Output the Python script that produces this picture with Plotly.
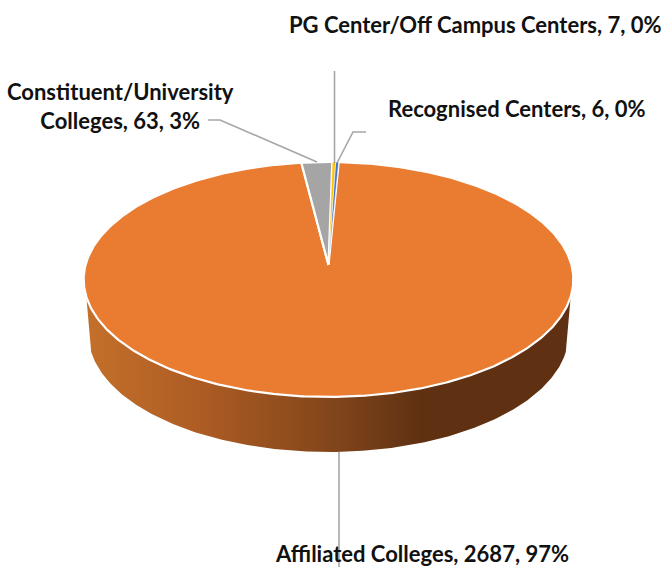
import numpy as np
import plotly.graph_objects as go

# ---- data ----
categories = ["Affiliated Colleges", "Constituent/University Colleges",
              "PG Center/Off Campus Centers", "Recognised Centers"]
values = [2687, 63, 7, 6]
percent_labels = ["97%", "3%", "0%", "0%"]
slice_colors = ["#EA7C31", "#A5A5A5", "#FFC000", "#4472C4"]

# ---- projection of the tilted disc onto the page (axis units = pixels) ----
W, H = 667, 568
CX, APEX_Y, R = 328.5, 265.0, 243.0
A, C = -83.0, 0.1234
DEPTH, BASE_SCALE = 55.0, 0.98
START_DEG = 2.7   # clockwise from north, where the first slice starts


def project(theta_deg, radius=1.0, drop=0.0, scale=1.0):
    t = np.radians(theta_deg)
    px, py = radius * np.sin(t), radius * np.cos(t)
    d = C * py + 1
    return CX + scale * R * px / d, (A * py + APEX_Y) / d + drop


fig = go.Figure()

# side wall, with a horizontal shade
rim_angle = np.degrees(np.arccos(-0.267))   # where the wall leaves the top rim
front = np.linspace(rim_angle, 360 - rim_angle, 240)
tx, ty = project(front)
bx, by = project(front[::-1], drop=DEPTH, scale=BASE_SCALE)
wall_x = np.r_[tx, bx, tx[0]]
wall_y = np.r_[ty, by, ty[0]]
x0, x1 = wall_x.min(), wall_x.max()
stops = [(x0, "#C4702B"), (200, "#AD5C23"), (340, "#7F441A"), (420, "#5F3112"), (x1, "#5F3112")]
fig.add_trace(go.Scatter(
    x=wall_x, y=wall_y, mode="lines", line=dict(width=0), fill="toself",
    fillgradient=dict(type="horizontal",
                      colorscale=[[(s - x0) / (x1 - x0), c] for s, c in stops]),
    hoverinfo="skip", showlegend=False))

# top face, one wedge per value
total = sum(values)
angle = START_DEG
for name, val, col in zip(categories, values, slice_colors):
    sweep = 360 * val / total
    arc = np.linspace(angle, angle + sweep, max(4, int(sweep * 2)))
    ax_, ay_ = project(arc)
    fig.add_trace(go.Scatter(
        x=np.r_[CX, ax_, CX], y=np.r_[APEX_Y, ay_, APEX_Y],
        mode="lines", fill="toself", fillcolor=col,
        line=dict(color="white", width=2.2 if val > 10 else 0.6),
        name=name, showlegend=False, hoverinfo="name"))
    angle += sweep

# leader lines
LEADER = "#A6A6A6"
leaders = [
    ([208, 220, 317], [120, 120, 162]),
    ([334.5, 334.5], [71, 163]),
    ([366, 353, 337], [132, 132, 163]),
    ([339, 339], [452, 567]),
]
for lx, ly in leaders:
    fig.add_trace(go.Scatter(x=lx, y=ly, mode="lines",
                             line=dict(color=LEADER, width=1.6),
                             hoverinfo="skip", showlegend=False))

# labels
FONT = dict(family="Lato, Carlito, Calibri, sans-serif", size=22, color="#111111")
text = [
    (475.5, 24, f"<b>{categories[2]}, {values[2]}, {percent_labels[2]}</b>"),
    (516.5, 108, f"<b>{categories[3]}, {values[3]}, {percent_labels[3]}</b>"),
    (120, 106, f"<b>Constituent/University<br>Colleges, {values[1]}, {percent_labels[1]}</b>"),
    (422, 553, f"<b>{categories[0]}, {values[0]}, {percent_labels[0]}</b>"),
]
for tx_, ty_, s in text:
    fig.add_annotation(x=tx_, y=ty_, text=s, showarrow=False, font=FONT,
                       xanchor="center", yanchor="middle", align="center")

fig.update_layout(
    width=W, height=H, autosize=False, margin=dict(l=0, r=0, t=0, b=0),
    paper_bgcolor="white", plot_bgcolor="white", showlegend=False,
    xaxis=dict(range=[0, W], visible=False, fixedrange=True),
    yaxis=dict(range=[H, 0], visible=False, fixedrange=True),
)
fig.write_html("out.html", config={"displayModeBar": False},
               default_width=f"{W}px", default_height=f"{H}px",
               post_script="document.body.style.margin='0';")
